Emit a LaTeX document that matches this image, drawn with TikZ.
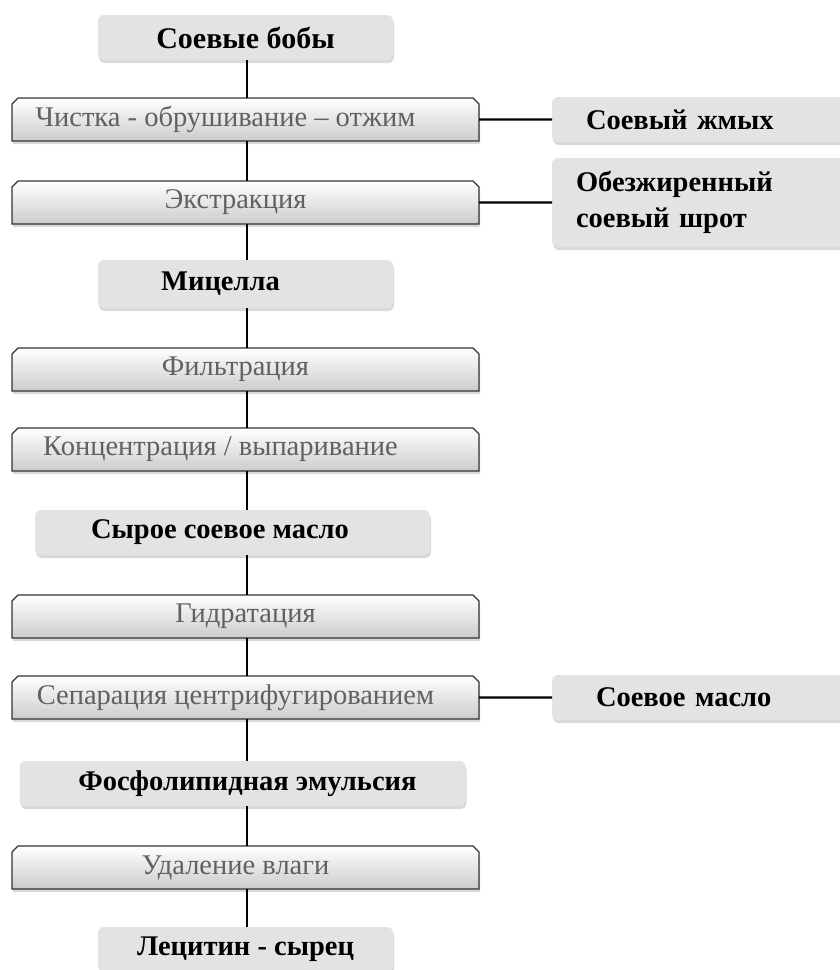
\documentclass[tikz,border=0pt]{standalone}
\usepackage{fontspec}
\setmainfont{Liberation Serif}
\usetikzlibrary{shapes,shadows,positioning}

\begin{document}
\begin{tikzpicture}[x=1pt, y=1pt,
    stage/.style={chamfered rectangle, chamfered rectangle corners={north west,north east},
        chamfered rectangle xsep=3pt, chamfered rectangle ysep=3pt,
        draw=black!80, line width=1.2pt, top color=white, bottom color=black!20,
        text=black!62, minimum width=467pt, minimum height=43pt, inner sep=0pt, outer sep=0pt,
        font=\fontsize{28.5}{32}\selectfont,
        drop shadow={shadow xshift=1pt, shadow yshift=-3pt, opacity=0.3}},
    product/.style={rectangle, rounded corners=6pt, fill=black!11,
        minimum width=295pt, minimum height=45pt, inner sep=0pt, outer sep=0pt,
        font=\fontsize{28.5}{36}\selectfont\bfseries,
        drop shadow={shadow xshift=1pt, shadow yshift=-3pt, opacity=0.3}},
    side/.style={product, minimum width=0pt, text width=260pt, align=left, inner xsep=24pt},
    link/.style={line width=2.8pt},
    hlink/.style={line width=2.4pt}
]
\useasboundingbox (0,0) rectangle (839,-970);

% main chain
\node[product, font=\fontsize{30}{36}\selectfont\bfseries] (beans) at (245.5,-37.5) {Соевые бобы};
\node[stage, below=38pt of beans] (clean) {Чистка - обрушивание – отжим\hspace*{40pt}};
\node[stage, below=40pt of clean] (extract) {Экстракция\hspace*{20pt}};
\node[product, minimum height=48pt, below=36pt of extract] (micelle) {Мицелла\hspace*{50pt}};
\node[stage, below=40pt of micelle] (filter) {Фильтрация\hspace*{20pt}};
\node[stage, below=37pt of filter] (concentr) {Концентрация / выпаривание\hspace*{50pt}};
\node[product, minimum width=395pt, below=39pt of concentr, xshift=-13pt] (crude) {Сырое соевое масло\hspace*{25pt}};
\node[stage, below=40pt of crude, xshift=13pt] (hydrate) {Гидратация};
\node[stage, below=38pt of hydrate] (separ) {Сепарация центрифугированием\hspace*{20pt}};
\node[product, minimum width=446pt, below=42pt of separ, xshift=-3pt] (emuls) {\hspace*{10pt}Фосфолипидная эмульсия};
\node[stage, below=40pt of emuls, xshift=3pt] (dry) {Удаление влаги\hspace*{20pt}};
\node[product, below=38pt of dry] (lecithin) {Лецитин - сырец};

% by-products
\node[side, right=73pt of clean] (cake) {\hspace*{10pt}Соевый жмых};
\node[side, minimum height=89pt, right=73pt of extract] (meal) {Обезжиренный\\соевый шрот};
\node[side, right=73pt of separ] (oil) {\hspace*{20pt}Соевое масло};

\coordinate (spine) at (247,0);
\draw[link] (beans.south -| spine) -- (clean.north -| spine);
\draw[link] (clean.south -| spine) -- (extract.north -| spine);
\draw[link] (extract.south -| spine) -- (micelle.north -| spine);
\draw[link] (micelle.south -| spine) -- (filter.north -| spine);
\draw[link] (filter.south -| spine) -- (concentr.north -| spine);
\draw[link] (concentr.south -| spine) -- (crude.north -| spine);
\draw[link] (crude.south -| spine) -- (hydrate.north -| spine);
\draw[link] (hydrate.south -| spine) -- (separ.north -| spine);
\draw[link] (separ.south -| spine) -- (emuls.north -| spine);
\draw[link] (emuls.south -| spine) -- (dry.north -| spine);
\draw[link] (dry.south -| spine) -- (lecithin.north -| spine);

\draw[hlink] (clean) -- (cake);
\draw[hlink] (extract) -- (meal);
\draw[hlink] (separ) -- (oil);

\end{tikzpicture}
\end{document}
